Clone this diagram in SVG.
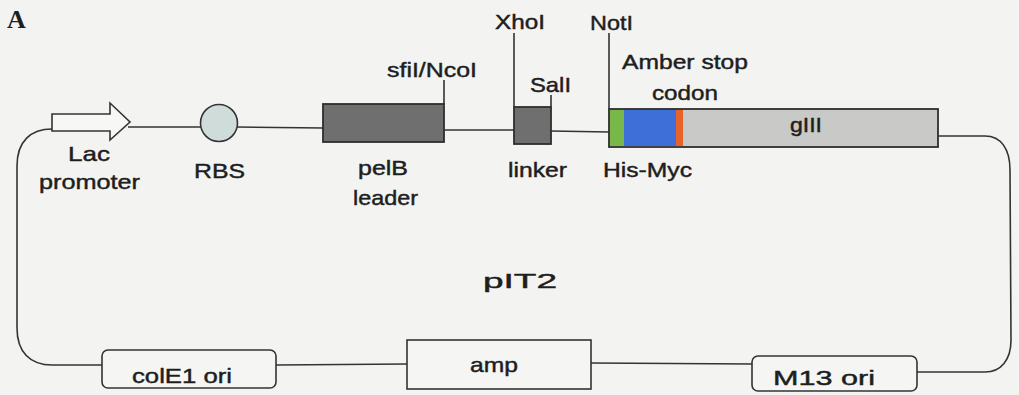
<svg xmlns="http://www.w3.org/2000/svg" width="1019" height="395" viewBox="0 0 1019 395">
<defs>
<style>
.t{font-family:"Liberation Sans",Arial,sans-serif;fill:#1e1e1e;font-size:21px;stroke:#1e1e1e;stroke-width:0.45px}
.ln{fill:none;stroke:#333;stroke-width:1.6}
.box{stroke:#2e2e2e;stroke-width:1.8}
.wbox{fill:#f5f6f4;stroke:#333;stroke-width:1.6}
</style>
</defs>
<rect x="0" y="0" width="1019" height="395" fill="#f3f4f2"/>
<text x="7" y="28" font-family="Liberation Serif,serif" font-weight="bold" font-size="26" fill="#1e1e1e">A</text>

<g id="connectors">
<path class="ln" d="M52,129 C31,129 17,141 17,166 L17,328 C17,352 30,365 52,365 L102,365"/>
<path class="ln" d="M128,127 L201,127"/>
<path class="ln" d="M237,127 L323,128"/>
<path class="ln" d="M444,130 L514,130"/>
<path class="ln" d="M551,131 L609,132"/>
<path class="ln" d="M938,136 L985,136 C1001,136 1010,149 1010,170 L1011,340 C1011,360 1001,372 985,372 L917,372"/>
<path class="ln" d="M276,365 L407,364"/>
<path class="ln" d="M591,363 L752,364"/>
<path class="ln" d="M444,104 L444,80"/>
<path class="ln" d="M514,107 L514,33"/>
<path class="ln" d="M551,107 L551,95"/>
<path class="ln" d="M609,109 L609,33"/>
</g>

<g id="lac">
<path d="M52,114 L110,114 L110,103 L130,122 L110,140 L110,131 L52,131 Z" fill="#f7f8f6" stroke="#333" stroke-width="1.6"/>
<text class="t" x="89" y="161" text-anchor="middle" font-size="21" textLength="42" lengthAdjust="spacingAndGlyphs">Lac</text>
<text class="t" x="39" y="189" font-size="22" textLength="101" lengthAdjust="spacingAndGlyphs">promoter</text>
</g>

<g id="rbs">
<circle cx="219" cy="123" r="18.5" fill="#cfdcda" stroke="#333" stroke-width="1.6"/>
<text class="t" x="194" y="178" font-size="23" textLength="51" lengthAdjust="spacingAndGlyphs">RBS</text>
</g>

<g id="pelb">
<rect class="box" x="323" y="104" width="121" height="38" fill="#6f6f6f"/>
<text class="t" x="387" y="77" textLength="90" lengthAdjust="spacingAndGlyphs">sfiI/NcoI</text>
<text class="t" x="358" y="175" font-size="22" textLength="50" lengthAdjust="spacingAndGlyphs">pelB</text>
<text class="t" x="353" y="205" font-size="22" textLength="65" lengthAdjust="spacingAndGlyphs">leader</text>
</g>

<g id="linker">
<rect class="box" x="514" y="107" width="37" height="37" fill="#6f6f6f"/>
<text class="t" x="495" y="29" font-size="20" textLength="50" lengthAdjust="spacingAndGlyphs">XhoI</text>
<text class="t" x="530" y="92" font-size="23" textLength="41" lengthAdjust="spacingAndGlyphs">SalI</text>
<text class="t" x="508" y="177" font-size="22" textLength="59" lengthAdjust="spacingAndGlyphs">linker</text>
</g>

<g id="hismyc">
<rect x="609" y="109" width="15" height="37" fill="#78b84a"/>
<rect x="624" y="109" width="52" height="37" fill="#3e6fd8"/>
<rect x="676" y="109" width="7" height="37" fill="#e8622c"/>
<text class="t" x="590" y="30" font-size="20" textLength="43" lengthAdjust="spacingAndGlyphs">NotI</text>
<text class="t" x="622" y="69" font-size="22" textLength="126" lengthAdjust="spacingAndGlyphs">Amber stop</text>
<text class="t" x="652" y="100" font-size="22" textLength="66" lengthAdjust="spacingAndGlyphs">codon</text>
<text class="t" x="603" y="177" font-size="22" textLength="89" lengthAdjust="spacingAndGlyphs">His-Myc</text>
</g>

<g id="giii">
<rect x="683" y="109" width="255" height="38" fill="#c9c9c7"/>
<rect x="609" y="109" width="329" height="38" fill="none" stroke="#2e2e2e" stroke-width="1.8"/>
<text class="t" x="790" y="132" font-size="22" textLength="32" lengthAdjust="spacingAndGlyphs">gIII</text>
</g>

<g id="pit2">
<text class="t" x="483" y="288" font-size="34" textLength="74" lengthAdjust="spacingAndGlyphs">pIT2</text>
</g>

<g id="cole1">
<rect class="wbox" x="102" y="350" width="174" height="38" rx="6"/>
<text class="t" x="132" y="383" font-size="22" textLength="100" lengthAdjust="spacingAndGlyphs">colE1 ori</text>
</g>

<g id="amp">
<rect class="wbox" x="407" y="340" width="184" height="49"/>
<text class="t" x="470" y="372" font-size="22" textLength="48" lengthAdjust="spacingAndGlyphs">amp</text>
</g>

<g id="m13">
<rect class="wbox" x="752" y="356" width="165" height="35" rx="6"/>
<text class="t" x="773" y="385" font-size="22" textLength="102" lengthAdjust="spacingAndGlyphs">M13 ori</text>
</g>
</svg>
